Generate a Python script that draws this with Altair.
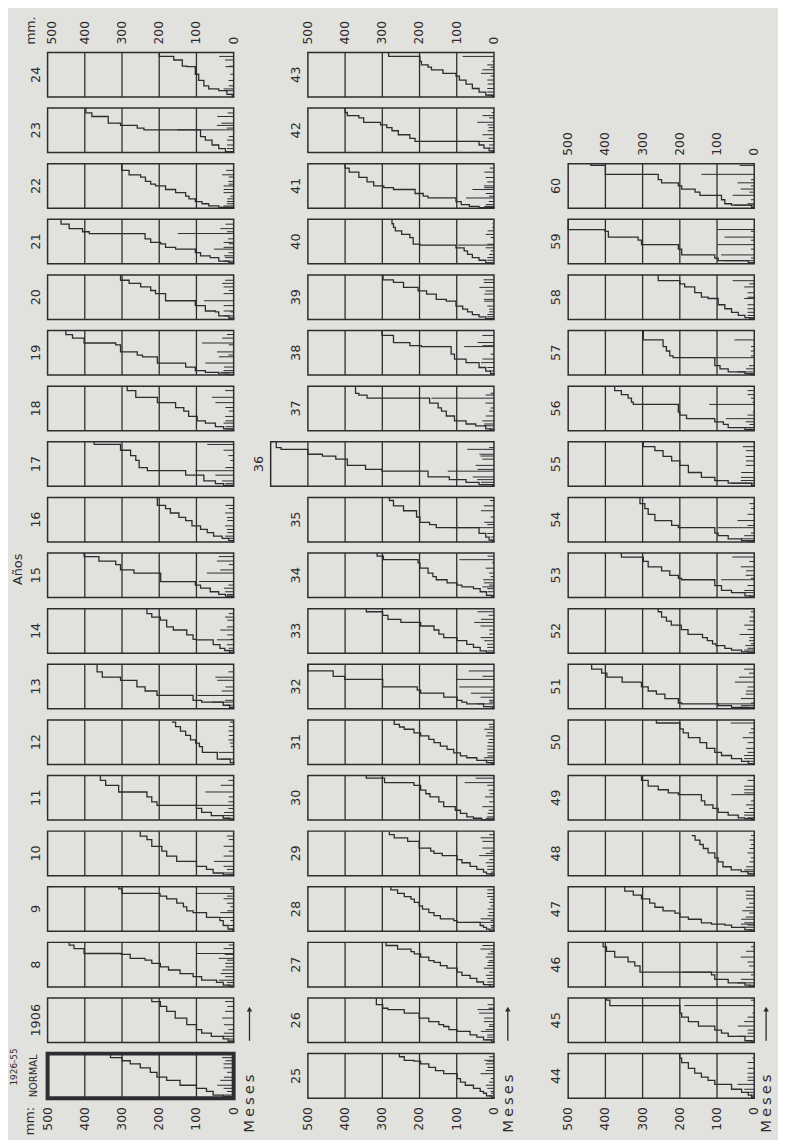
import altair as alt
import pandas as pd

# ---------------- data: (fraction of year, rainfall mm) per rain event ----------------
Y_NORMAL = [(.01, 11), (.04, 17), (.07, 27), (.15, 18), (.22, 27), (.29, 44), (.40, 36), (.47, 26), (.58, 18), (.68, 27), (.77, 27), (.84, 22), (.91, 31)]
Y1906 = [(.03, 15), (.08, 13), (.14, 32), (.21, 26), (.29, 14), (.40, 26), (.55, 31), (.70, 23), (.81, 17), (.92, 23)]
Y1908 = [(.01, 11), (.04, 17), (.10, 18), (.15, 40), (.23, 23), (.30, 35), (.38, 31), (.45, 22), (.53, 23), (.60, 18), (.64, 40), (.73, 24), (.75, 100), (.86, 27), (.94, 13)]
Y1909 = [(.01, 2), (.05, 13), (.13, 13), (.24, 9), (.31, 36), (.42, 36), (.46, 17), (.55, 9), (.63, 18), (.73, 27), (.79, 18), (.85, 102), (.95, 9)]
Y1910 = [(.01, 11), (.02, 17), (.06, 27), (.14, 18), (.21, 27), (.32, 53), (.44, 27), (.55, 13), (.66, 27), (.81, 13), (.89, 18)]
Y1911 = [(.01, 11), (.04, 17), (.10, 32), (.17, 26), (.26, 14), (.33, 106), (.41, 14), (.52, 13), (.63, 76), (.78, 35), (.89, 14)]
Y1912 = [(.04, 9), (.12, 35), (.27, 40), (.40, 8), (.48, 10), (.55, 14), (.65, 13), (.75, 14), (.85, 13), (.95, 10)]
Y1913 = [(.03, 11), (.08, 17), (.15, 58), (.19, 23), (.30, 97), (.40, 32), (.49, 22), (.64, 44), (.71, 49), (.83, 14)]
Y1914 = [(.02, 11), (.06, 13), (.11, 13), (.19, 18), (.30, 45), (.31, 9), (.41, 17), (.52, 36), (.59, 18), (.74, 17), (.81, 23), (.89, 13)]
Y1915 = [(.01, 4), (.03, 18), (.07, 18), (.13, 23), (.21, 26), (.28, 14), (.36, 93), (.55, 72), (.62, 36), (.74, 13), (.82, 45), (.92, 40)]
Y1916 = [(.01, 4), (.03, 9), (.08, 18), (.13, 23), (.21, 17), (.28, 18), (.36, 23), (.48, 17), (.55, 18), (.65, 23), (.75, 13), (.82, 22)]
Y1917 = [(.01, 4), (.02, 23), (.06, 22), (.12, 31), (.25, 49), (.35, 103), (.42, 22), (.58, 9), (.69, 14), (.81, 27), (.94, 71)]
Y1918 = [(.01, 4), (.04, 23), (.09, 22), (.17, 27), (.22, 22), (.32, 23), (.44, 13), (.52, 22), (.63, 49), (.75, 58), (.90, 23)]
Y1919 = [(.01, 13), (.02, 27), (.06, 36), (.10, 27), (.18, 26), (.27, 76), (.41, 40), (.45, 14), (.52, 45), (.68, 13), (.72, 85), (.83, 31), (.91, 18)]
Y1920 = [(.03, 13), (.08, 27), (.17, 9), (.19, 27), (.31, 27), (.42, 80), (.58, 27), (.65, 13), (.73, 27), (.81, 31), (.88, 23)]
Y1921 = [(.02, 13), (.06, 27), (.14, 23), (.18, 26), (.25, 14), (.33, 53), (.37, 27), (.45, 13), (.48, 27), (.56, 15), (.68, 150), (.72, 18), (.79, 36), (.89, 22)]
Y1922 = [(.01, 4), (.02, 36), (.05, 27), (.10, 18), (.15, 18), (.21, 17), (.27, 9), (.35, 27), (.42, 27), (.50, 27), (.54, 13), (.60, 14), (.70, 13), (.75, 31), (.85, 20)]
Y1923 = [(.01, 4), (.02, 18), (.09, 18), (.17, 18), (.28, 18), (.36, 13), (.51, 152), (.55, 18), (.61, 45), (.66, 33), (.81, 44), (.89, 16)]
Y1924 = [(.01, 4), (.06, 14), (.14, 22), (.18, 27), (.25, 13), (.37, 14), (.51, 9), (.68, 22), (.69, 13), (.83, 23), (.91, 39)]

Y1925 = [(.01, 6), (.05, 14), (.11, 8), (.15, 9), (.22, 18), (.29, 22), (.36, 13), (.44, 9), (.55, 36), (.62, 22), (.69, 18), (.77, 22), (.83, 18), (.85, 26), (.93, 13)]
Y1926 = [(.01, 6), (.06, 22), (.12, 18), (.17, 18), (.25, 35), (.29, 22), (.36, 14), (.40, 13), (.47, 27), (.55, 26), (.66, 40), (.74, 44), (.77, 14), (.85, 17)]
Y1927 = [(.01, 11), (.05, 17), (.11, 18), (.19, 18), (.26, 22), (.33, 13), (.42, 27), (.48, 18), (.55, 17), (.59, 14), (.67, 22), (.74, 17), (.79, 9), (.85, 36), (.93, 31)]
Y1928 = [(.01, 11), (.05, 9), (.09, 8), (.13, 9), (.20, 62), (.24, 9), (.28, 36), (.35, 17), (.42, 14), (.50, 17), (.57, 9), (.65, 13), (.72, 9), (.78, 18), (.85, 18), (.93, 18)]
Y1929 = [(.01, 6), (.04, 14), (.08, 8), (.14, 18), (.21, 18), (.29, 22), (.36, 13), (.45, 40), (.50, 22), (.55, 9), (.62, 31), (.77, 31), (.85, 36), (.92, 13)]
Y1930 = [(.01, 33), (.04, 22), (.07, 18), (.15, 17), (.22, 14), (.30, 31), (.41, 13), (.52, 24), (.59, 11), (.67, 14), (.78, 18), (.84, 79), (.94, 49)]
Y1931 = [(.01, 6), (.04, 14), (.09, 26), (.15, 27), (.19, 17), (.26, 18), (.34, 18), (.41, 18), (.49, 17), (.56, 14), (.64, 22), (.71, 18), (.79, 26), (.84, 13), (.90, 14)]
Y1932 = [(.01, 4), (.05, 24), (.11, 45), (.15, 13), (.19, 13), (.26, 36), (.35, 62), (.42, 9), (.49, 93), (.66, 102), (.73, 31), (.85, 68)]
Y1933 = [(.01, 20), (.05, 17), (.13, 18), (.20, 18), (.28, 26), (.35, 36), (.43, 13), (.52, 13), (.61, 36), (.69, 53), (.76, 35), (.85, 14), (.93, 44)]
Y1934 = [(.01, 6), (.05, 14), (.13, 17), (.20, 18), (.24, 31), (.28, 13), (.33, 27), (.40, 29), (.47, 9), (.55, 13), (.66, 22), (.78, 5), (.85, 93), (.93, 17)]
Y1935 = [(.01, 4), (.04, 9), (.11, 9), (.19, 18), (.32, 115), (.39, 18), (.44, 26), (.56, 9), (.70, 35), (.81, 27), (.93, 11)]
Y1936 = [(.01, 4), (.04, 36), (.09, 35), (.15, 45), (.21, 57), (.34, 124), (.38, 44), (.47, 49), (.61, 31), (.68, 36), (.72, 39), (.83, 72), (.87, 13)]
Y1937 = [(.01, 9), (.04, 13), (.11, 27), (.15, 26), (.22, 31), (.33, 22), (.44, 13), (.51, 9), (.62, 23), (.73, 168), (.80, 22), (.84, 9)]
Y1938 = [(.03, 9), (.09, 13), (.17, 18), (.28, 35), (.36, 31), (.47, 9), (.64, 80), (.66, 31), (.73, 44), (.89, 31)]
Y1939 = [(.005, 9), (.02, 13), (.06, 18), (.11, 18), (.17, 13), (.23, 13), (.30, 18), (.41, 26), (.45, 27), (.57, 26), (.64, 23), (.72, 39), (.83, 27), (.89, 28)]
Y1940 = [(.005, 4), (.02, 18), (.08, 18), (.14, 18), (.21, 13), (.29, 9), (.36, 22), (.42, 97), (.44, 18), (.59, 9), (.66, 22), (.74, 17), (.82, 5), (.90, 4)]
Y1941 = [(.01, 40), (.04, 26), (.08, 22), (.15, 14), (.23, 75), (.27, 13), (.33, 22), (.42, 58), (.46, 26), (.50, 27), (.59, 18), (.69, 22), (.81, 26), (.90, 11)]
Y1942 = [(.01, 4), (.04, 9), (.10, 14), (.17, 13), (.25, 172), (.32, 14), (.40, 31), (.49, 17), (.56, 14), (.62, 17), (.68, 45), (.78, 13), (.83, 31), (.90, 6)]
Y1943 = [(.01, 4), (.04, 18), (.11, 18), (.19, 18), (.29, 17), (.38, 18), (.47, 9), (.53, 35), (.61, 31), (.67, 9), (.72, 18), (.80, 4), (.91, 84)]

Y1944 = [(.02, 7), (.07, 9), (.13, 18), (.20, 27), (.31, 45), (.40, 18), (.47, 18), (.56, 18), (.67, 17), (.80, 18), (.90, 5)]
Y1945 = [(.01, 7), (.04, 18), (.14, 45), (.21, 18), (.28, 18), (.37, 44), (.47, 27), (.57, 18), (.66, 5), (.83, 188), (.95, 9)]
Y1946 = [(.01, 12), (.04, 13), (.09, 45), (.17, 36), (.27, 9), (.33, 192), (.47, 14), (.56, 18), (.67, 36), (.80, 22), (.90, 9)]
Y1947 = [(.01, 7), (.03, 18), (.09, 36), (.14, 18), (.16, 36), (.19, 27), (.27, 35), (.32, 23), (.41, 13), (.46, 32), (.54, 22), (.63, 14), (.73, 22), (.81, 22), (.90, 23)]
Y1948 = [(.04, 17), (.09, 18), (.13, 27), (.20, 22), (.31, 13), (.40, 9), (.51, 18), (.61, 13), (.70, 9), (.80, 13), (.90, 9)]
Y1949 = [(.01, 7), (.03, 18), (.05, 18), (.11, 27), (.17, 27), (.26, 14), (.34, 22), (.43, 9), (.57, 62), (.61, 27), (.68, 27), (.76, 27), (.89, 18)]
Y1950 = [(.02, 16), (.07, 18), (.13, 27), (.20, 27), (.27, 18), (.36, 22), (.49, 18), (.60, 31), (.71, 14), (.80, 9), (.93, 63)]
Y1951 = [(.01, 16), (.03, 45), (.07, 36), (.11, 98), (.13, 9), (.23, 36), (.33, 23), (.40, 22), (.49, 18), (.60, 52), (.71, 41), (.80, 14), (.89, 27)]
Y1952 = [(.01, 16), (.03, 18), (.07, 27), (.11, 18), (.17, 24), (.21, 9), (.28, 14), (.35, 13), (.42, 39), (.53, 18), (.63, 27), (.72, 13), (.81, 13), (.93, 9)]
Y1953 = [(.01, 12), (.04, 13), (.11, 36), (.16, 27), (.27, 18), (.40, 89), (.43, 9), (.50, 23), (.60, 22), (.69, 36), (.81, 13), (.91, 59)]
Y1954 = [(.01, 16), (.03, 18), (.07, 36), (.14, 27), (.20, 9), (.32, 98), (.37, 18), (.48, 45), (.62, 18), (.75, 9), (.86, 13)]
Y1955 = [(.02, 7), (.07, 63), (.13, 36), (.20, 36), (.31, 35), (.47, 23), (.57, 22), (.67, 23), (.80, 22), (.89, 31)]
Y1956 = [(.01, 7), (.03, 18), (.07, 45), (.14, 13), (.20, 23), (.27, 76), (.35, 18), (.42, 4), (.59, 121), (.64, 5), (.73, 9), (.81, 18), (.90, 18)]
Y1957 = [(.01, 7), (.03, 18), (.07, 45), (.14, 22), (.21, 14), (.39, 112), (.43, 9), (.54, 9), (.64, 9), (.79, 53)]
Y1958 = [(.01, 12), (.04, 13), (.09, 18), (.16, 18), (.24, 18), (.33, 18), (.47, 27), (.50, 18), (.60, 18), (.73, 27), (.80, 13), (.87, 58)]
Y1959 = [(.02, 16), (.07, 81), (.13, 9), (.20, 89), (.33, 9), (.43, 99), (.53, 9), (.60, 80), (.73, 9), (.77, 99)]
Y1960 = [(.02, 7), (.07, 54), (.10, 18), (.19, 9), (.29, 58), (.36, 13), (.43, 36), (.50, 9), (.57, 45), (.64, 9), (.76, 142), (.96, 39)]

# panel labels, top to bottom, per column
COL1 = ["24", "23", "22", "21", "20", "19", "18", "17", "16", "15", "14", "13", "12", "11", "10", "9", "8", "1906", "NORMAL"]
COL2 = ["43", "42", "41", "40", "39", "38", "37", "36", "35", "34", "33", "32", "31", "30", "29", "28", "27", "26", "25"]
COL3 = ["60", "59", "58", "57", "56", "55", "54", "53", "52", "51", "50", "49", "48", "47", "46", "45", "44"]
SCALE_TICKS = [500, 400, 300, 200, 100, 0]
OPEN_END = ["12", "48"]          # curves that stop before the end of the year
WIDE_PANEL = {"36": 600}         # panel whose box is drawn up to 600 mm

PANELS = {
    "NORMAL": Y_NORMAL, "1906": Y1906, "8": Y1908, "9": Y1909, "10": Y1910, "11": Y1911,
    "12": Y1912, "13": Y1913, "14": Y1914, "15": Y1915, "16": Y1916, "17": Y1917,
    "18": Y1918, "19": Y1919, "20": Y1920, "21": Y1921, "22": Y1922, "23": Y1923, "24": Y1924,
    "25": Y1925, "26": Y1926, "27": Y1927, "28": Y1928, "29": Y1929, "30": Y1930, "31": Y1931,
    "32": Y1932, "33": Y1933, "34": Y1934, "35": Y1935, "36": Y1936, "37": Y1937, "38": Y1938,
    "39": Y1939, "40": Y1940, "41": Y1941, "42": Y1942, "43": Y1943,
    "44": Y1944, "45": Y1945, "46": Y1946, "47": Y1947, "48": Y1948, "49": Y1949, "50": Y1950,
    "51": Y1951, "52": Y1952, "53": Y1953, "54": Y1954, "55": Y1955, "56": Y1956, "57": Y1957,
    "58": Y1958, "59": Y1959, "60": Y1960,
}

# ---------------- layout ----------------
W, H = 778, 1132
STRIP_W, STRIP_H = 188, 45
MM_FULL = 500
U = MM_FULL / STRIP_W            # mm units per pixel
COL_LEFT = [40, 303, 566]        # px
ROW_TOP0 = 39
ROW_PITCH = 56.2
NROWS = 19
INK = "#2f2b2f"
BG = "#e1e1dd"
FONT = "DejaVu Sans"


def ux(c, mm, dpx=0.0):
    return COL_LEFT[c] * U + (MM_FULL - mm) + dpx * U


def vy(r, f, dpx=0.0):
    return (ROW_TOP0 + r * ROW_PITCH) / STRIP_H + (1 - f) + dpx / STRIP_H


frames, grids, bars, lines, ylabels = [], [], [], [], []
for c, names in enumerate([COL1, COL2, COL3]):
    start = NROWS - len(names)
    for i, name in enumerate(names):
        r = start + i
        top = WIDE_PANEL.get(name, MM_FULL)
        frames.append({"name": name, "ul": ux(c, top), "ur": ux(c, 0), "vt": vy(r, 1), "vb": vy(r, 0),
                       "normal": name == "NORMAL"})
        for g in range(100, top, 100):
            grids.append({"u": ux(c, g), "vt": vy(r, 1), "vb": vy(r, 0)})
        ev = PANELS[name]
        cum = 0
        seq = 0
        lines.append({"name": name, "seq": seq, "u": ux(c, 0), "v": vy(r, 0)})
        for t, a in ev:
            seq += 1
            lines.append({"name": name, "seq": seq, "u": ux(c, cum), "v": vy(r, t)})
            cum += a
            seq += 1
            lines.append({"name": name, "seq": seq, "u": ux(c, cum), "v": vy(r, t)})
            bars.append({"u0": ux(c, 0), "u1": ux(c, a), "v": vy(r, t)})
        if name not in OPEN_END:
            seq += 1
            lines.append({"name": name, "seq": seq, "u": ux(c, cum), "v": vy(r, 1)})
        if name == "NORMAL":
            ylabels.append({"t": "NORMAL", "u": ux(c, top, -14), "v": vy(r, 0.5), "s": 10})
            ylabels.append({"t": "1926-55", "u": ux(c, top, -34), "v": vy(r, 0.5, -9), "s": 9})
        else:
            ylabels.append({"t": name, "u": ux(c, top, -12), "v": vy(r, 0.5), "s": 13})

top_labels, bottom_labels, meses = [], [], []
for c, names in enumerate([COL1, COL2, COL3]):
    r0 = NROWS - len(names)
    for m in SCALE_TICKS:
        shift = 4 if (c == 0 and m == 500) else 0
        top_labels.append({"t": str(m), "u": ux(c, m, shift), "v": vy(r0, 1, -8)})
        bottom_labels.append({"t": str(m), "u": ux(c, m), "v": vy(NROWS - 1, 0, 9)})
top_labels.append({"t": "mm.", "u": ux(0, 500, -17), "v": vy(0, 1, -8)})
bottom_labels.append({"t": "mm:", "u": ux(0, 500, -18), "v": vy(NROWS - 1, 0, 9)})
MESES_DX = [16, 14, 12]
for c in range(3):
    meses.append({"t": "M\u2009e\u2009s\u2009e\u2009s", "u": ux(c, 0, MESES_DX[c]),
                  "v": vy(NROWS - 1, 0, 35),
                  "v_a": vy(NROWS - 1, 0, -58), "v_b": vy(NROWS - 1, 0, -90)})

extra = [{"t": "Años", "u": ux(0, 500, -30), "v": vy(9, 0.5, -6)}]

XS = alt.Scale(domain=[0, W * U], nice=False, zero=False)
YS = alt.Scale(domain=[0, H / STRIP_H], reverse=True, nice=False, zero=False)


def X(f):
    return alt.X(f, type="quantitative", scale=XS, axis=None)


def Y(f):
    return alt.Y(f, type="quantitative", scale=YS, axis=None)


fr = pd.DataFrame(frames)
frame_layer = alt.Chart(fr[~fr.normal]).mark_rect(fillOpacity=0, stroke=INK, strokeWidth=1.5).encode(
    x=X("ul"), x2="ur", y=Y("vt"), y2="vb")
normal_layer = alt.Chart(fr[fr.normal]).mark_rect(fillOpacity=0, stroke=INK, strokeWidth=4).encode(
    x=X("ul"), x2="ur", y=Y("vt"), y2="vb")
grid_layer = alt.Chart(pd.DataFrame(grids)).mark_rule(color=INK, strokeWidth=1.3).encode(
    x=X("u"), y=Y("vt"), y2="vb")
bar_layer = alt.Chart(pd.DataFrame(bars)).mark_rule(color=INK, strokeWidth=1).encode(
    x=X("u0"), x2="u1", y=Y("v"))
line_layer = alt.Chart(pd.DataFrame(lines)).mark_line(color=INK, strokeWidth=1.3).encode(
    x=X("u"), y=Y("v"), detail="name:N", order=alt.Order("seq:Q"))

ylab_layer = alt.Chart(pd.DataFrame(ylabels)).mark_text(
    angle=270, align="center", baseline="middle", font=FONT, color=INK).encode(
    x=X("u"), y=Y("v"), text="t:N", size=alt.Size("s:Q", scale=None, legend=None))
top_layer = alt.Chart(pd.DataFrame(top_labels)).mark_text(
    angle=270, align="left", baseline="middle", font=FONT, fontSize=12.5, color=INK).encode(
    x=X("u"), y=Y("v"), text="t:N")
bot_layer = alt.Chart(pd.DataFrame(bottom_labels)).mark_text(
    angle=270, align="right", baseline="middle", font=FONT, fontSize=12.5, color=INK).encode(
    x=X("u"), y=Y("v"), text="t:N")
me = pd.DataFrame(meses)
meses_layer = alt.Chart(me).mark_text(
    angle=270, align="left", baseline="middle", font=FONT, fontSize=15, color=INK).encode(
    x=X("u"), y=Y("v"), text="t:N")
arrow_shaft = alt.Chart(me).mark_rule(color=INK, strokeWidth=1.3).encode(
    x=X("u"), y=Y("v_a"), y2="v_b")
arrow_head = alt.Chart(me).mark_point(shape="triangle-up", filled=True, color=INK, size=30, opacity=1).encode(
    x=X("u"), y=Y("v_b"))
extra_layer = alt.Chart(pd.DataFrame(extra)).mark_text(
    angle=270, align="center", baseline="middle", font=FONT, fontSize=13, color=INK).encode(
    x=X("u"), y=Y("v"), text="t:N")

chart = alt.layer(
    grid_layer, bar_layer, frame_layer, normal_layer, line_layer,
    ylab_layer, top_layer, bot_layer, meses_layer, arrow_shaft, arrow_head, extra_layer,
).properties(
    width=W, height=H, background=BG, padding=0,
    autosize=alt.AutoSizeParams(type="none"),
).configure_view(stroke=None)

chart.save("out.html", embed_options={"renderer": "svg", "actions": False})
